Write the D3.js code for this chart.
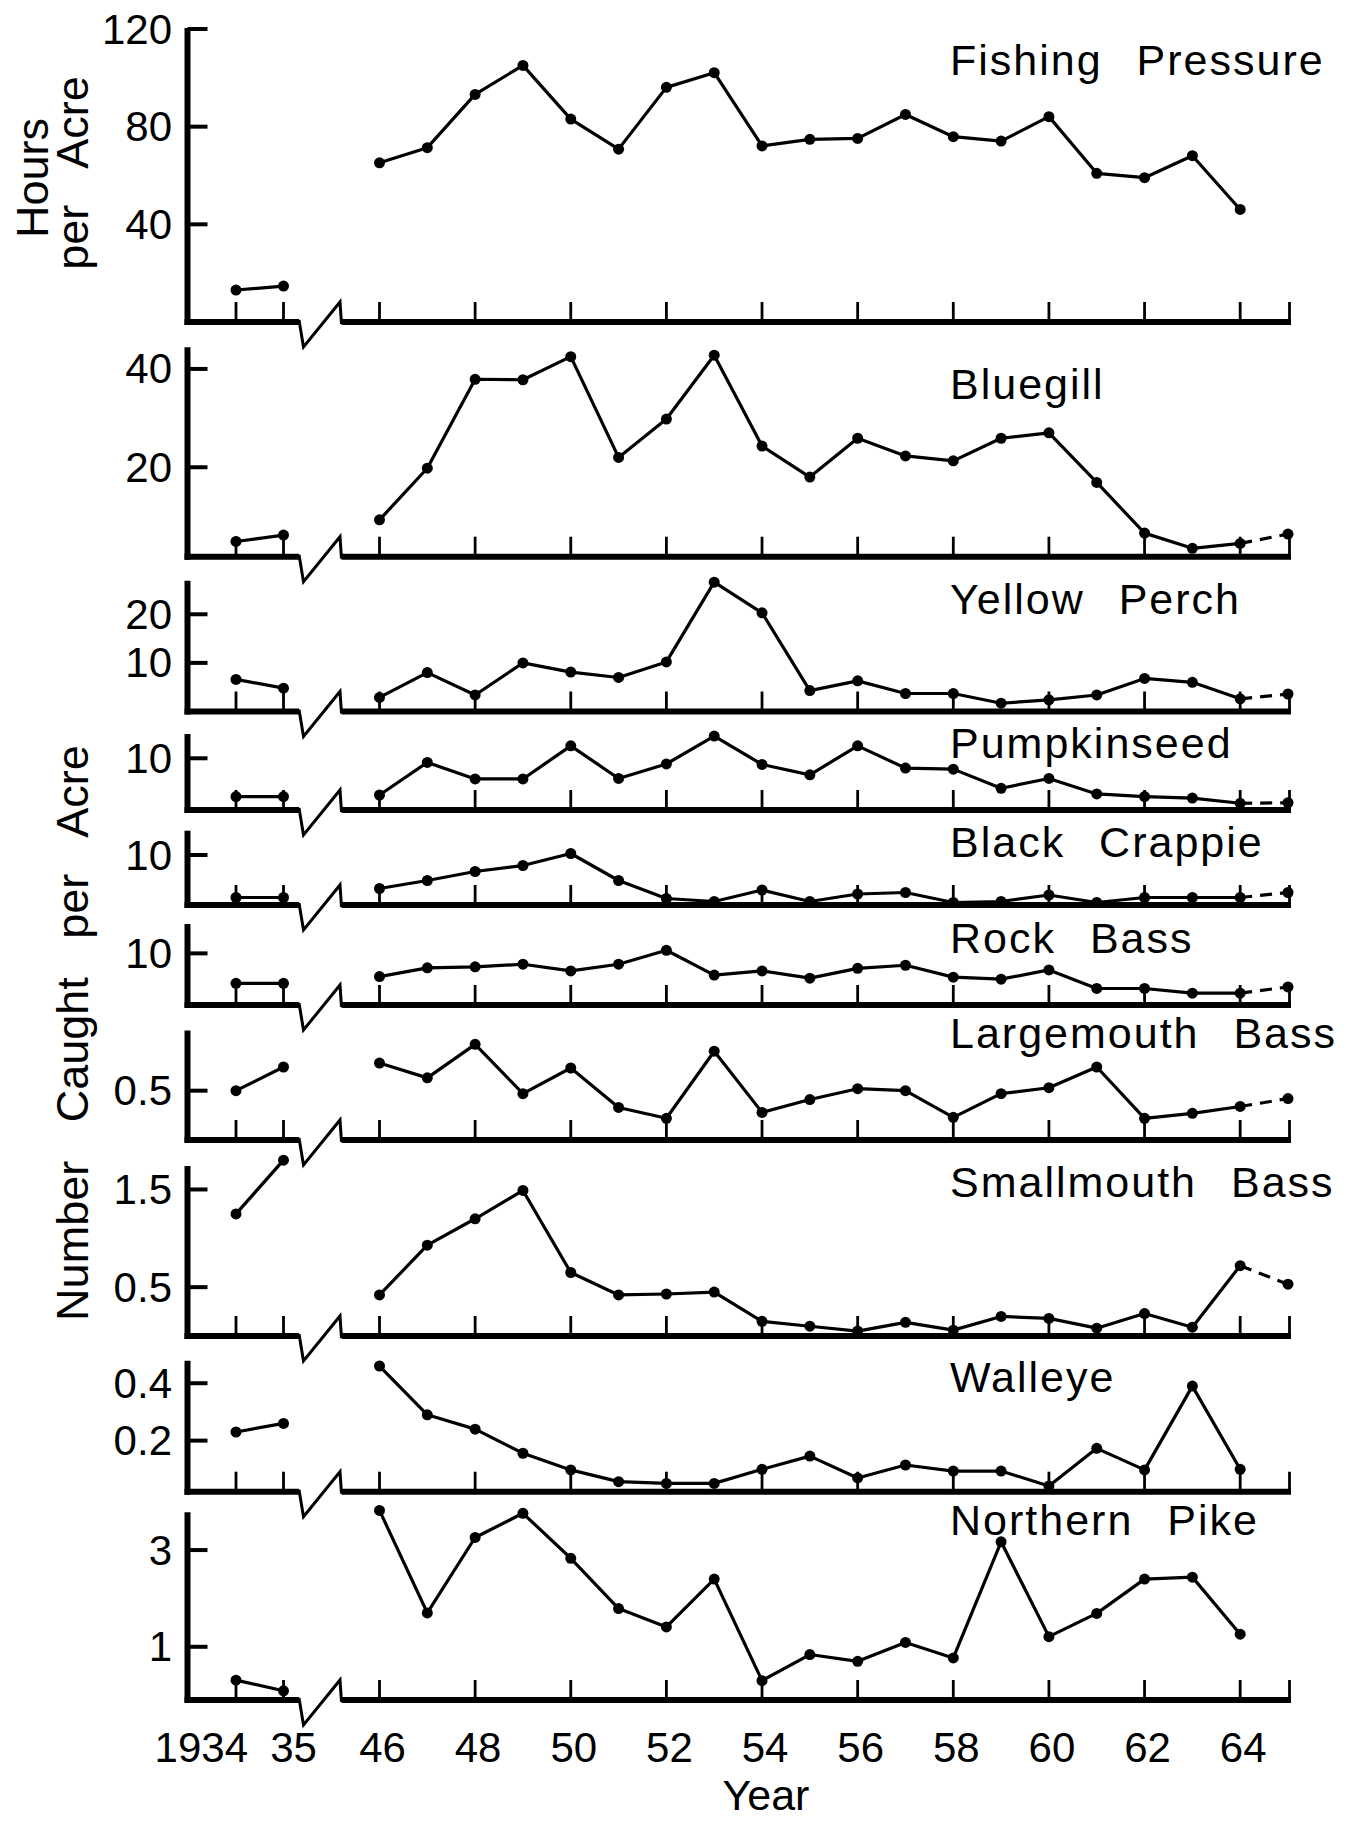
<!DOCTYPE html>
<html>
<head>
<meta charset="utf-8">
<script src="https://cdn.jsdelivr.net/npm/d3@7"></script>
<style>
  body { margin: 0; background: #fff; }
  svg text { font-family: "Liberation Sans", Arial, Helvetica, sans-serif; fill: #000; }
</style>
</head>
<body>
<div id="my_dataviz"></div>
<script>

// years on the x axis (1934, 1935, then 1946 - 1965)
var years = [1934, 1935, 1946, 1947, 1948, 1949, 1950, 1951, 1952, 1953, 1954,
             1955, 1956, 1957, 1958, 1959, 1960, 1961, 1962, 1963, 1964, 1965];

// x tick marks and their labels
var xTickYears  = [1934, 1935, 1946, 1948, 1950, 1952, 1954, 1956, 1958, 1960, 1962, 1964];
var xTickLabels = ["1934", "35", "46", "48", "50", "52", "54", "56", "58", "60", "62", "64"];

// hours per acre
var fishingPressure = [13.1, 14.7, 65.2, 71.4, 93.2, 105.1, 83.1, 70.8, 96.1, 102.1, 72.1,
                       74.8, 75.2, 85.0, 75.9, 74.1, 84.1, 60.9, 59.1, 68.1, 46.1, null];

// number caught per acre
var bluegill = [4.9, 6.2, 9.3, 19.8, 37.9, 37.8, 42.5, 22.0, 29.8, 42.8, 24.3,
                18.0, 25.9, 22.3, 21.3, 25.9, 27.0, 16.9, 6.6, 3.5, 4.5, 6.4];
var yellowPerch = [6.6, 4.8, 2.9, 8.0, 3.4, 10.0, 8.1, 7.0, 10.2, 26.6, 20.3,
                   4.3, 6.3, 3.7, 3.7, 1.7, 2.4, 3.4, 6.8, 6.0, 2.6, 3.6];
var pumpkinseed = [2.6, 2.6, 2.9, 9.2, 6.0, 6.0, 12.4, 6.1, 8.9, 14.3, 8.8,
                   6.8, 12.4, 8.1, 7.9, 4.2, 6.1, 3.1, 2.6, 2.3, 1.3, 1.4];
var blackCrappie = [1.5, 1.5, 3.3, 4.9, 6.7, 7.9, 10.3, 4.9, 1.3, 0.7, 3.0,
                    0.7, 2.2, 2.5, 0.5, 0.7, 2.0, 0.5, 1.5, 1.5, 1.5, 2.5];
var rockBass = [4.2, 4.2, 5.5, 7.2, 7.4, 7.9, 6.6, 7.9, 10.6, 5.8, 6.6,
                5.2, 7.1, 7.7, 5.4, 5.0, 6.8, 3.2, 3.2, 2.3, 2.3, 3.5];
var largemouthBass = [0.50, 0.74, 0.78, 0.63, 0.97, 0.47, 0.73, 0.33, 0.22, 0.90, 0.28,
                      0.41, 0.52, 0.50, 0.23, 0.47, 0.53, 0.74, 0.22, 0.27, 0.34, 0.42];
var smallmouthBass = [1.25, 1.80, 0.42, 0.93, 1.20, 1.49, 0.65, 0.42, 0.43, 0.45, 0.15,
                      0.10, 0.05, 0.14, 0.06, 0.20, 0.18, 0.08, 0.23, 0.09, 0.72, 0.53];
var walleye = [0.23, 0.26, 0.46, 0.29, 0.24, 0.156, 0.098, 0.057, 0.051, 0.051, 0.10,
               0.146, 0.07, 0.115, 0.094, 0.094, 0.042, 0.173, 0.098, 0.39, 0.10, null];
var northernPike = [0.31, 0.09, 3.82, 1.70, 3.26, 3.76, 2.83, 1.79, 1.41, 2.40, 0.30,
                    0.84, 0.70, 1.09, 0.77, 3.17, 1.21, 1.69, 2.40, 2.44, 1.26, null];

var titles = ["Fishing Pressure", "Bluegill", "Yellow Perch", "Pumpkinseed", "Black Crappie",
              "Rock Bass", "Largemouth Bass", "Smallmouth Bass", "Walleye", "Northern Pike"];
var yTicks = [[40, 80, 120], [20, 40], [10, 20], [10], [10], [10], [0.5], [0.5, 1.5], [0.2, 0.4], [1, 3]];
var yDomains = [[0, 120], [1.8, 44.2], [0, 26.7], [0, 14.5], [0, 14.66], [0, 15.5],
                [0, 1.1], [0, 1.73], [0.022, 0.475], [-0.1, 3.76]];
var series = [fishingPressure, bluegill, yellowPerch, pumpkinseed, blackCrappie,
              rockBass, largemouthBass, smallmouthBass, walleye, northernPike];

// panel layout: baseline y, top y, title baseline
var panelBase  = [322, 556.7, 711.5, 810, 905, 1005, 1140, 1336, 1491.7, 1700];
var panelTop   = [29, 348.3, 581.7, 735, 831.7, 925, 1031.5, 1167, 1361.7, 1513.3];
var titleY     = [75, 399, 614, 758, 857, 953, 1048, 1197, 1392, 1535];

var W = 1347, H = 1821;
var svg = d3.select("#my_dataviz")
  .append("svg")
    .attr("width", W)
    .attr("height", H);

// x scale with a break between 1935 and 1946
var x = d3.scaleLinear()
  .domain([1933, 1935, 1946, 1965])
  .range([188.5, 283.5, 379.5, 1288]);

var axisX = 187.5;
var axisEnd = 1291;
var breakL = x(1935) + 15.5, breakR = x(1946) - 38;

series.forEach(function (vals, p) {
  var base = panelBase[p];
  var y = d3.scaleLinear().domain(yDomains[p]).range([base, panelTop[p]]);
  var g = svg.append("g");

  // y axis line
  g.append("line")
    .attr("x1", axisX).attr("x2", axisX)
    .attr("y1", panelTop[p] - 1).attr("y2", base + 3)
    .attr("stroke", "#000").attr("stroke-width", 6);

  // baseline with break
  g.append("path")
    .attr("d", "M" + (axisX - 3) + "," + base + "H" + breakL + "M" + breakR + "," + base + "H" + axisEnd)
    .attr("fill", "none").attr("stroke", "#000").attr("stroke-width", 6);
  g.append("path")
    .attr("d", "M" + breakL + "," + (base - 2) + "L" + (breakL + 4.5) + "," + (base + 25) +
               "L" + (breakR - 1.5) + "," + (base - 20) + "L" + breakR + "," + (base + 2))
    .attr("fill", "none").attr("stroke", "#000").attr("stroke-width", 3)
    .attr("stroke-linejoin", "miter");

  // x tick marks
  g.selectAll(".xt")
    .data(xTickYears.concat([1965]))
    .enter().append("line")
      .attr("x1", function (d) { return d === 1965 ? axisEnd - 1.5 : x(d); })
      .attr("x2", function (d) { return d === 1965 ? axisEnd - 1.5 : x(d); })
      .attr("y1", base).attr("y2", base - 20)
      .attr("stroke", "#000").attr("stroke-width", 2.8);

  // y ticks and labels
  yTicks[p].forEach(function (t) {
    g.append("line")
      .attr("x1", axisX).attr("x2", axisX + 20)
      .attr("y1", y(t)).attr("y2", y(t))
      .attr("stroke", "#000").attr("stroke-width", 4);
    g.append("text")
      .attr("x", 172).attr("y", y(t))
      .attr("text-anchor", "end")
      .attr("dominant-baseline", "central")
      .style("font-size", "42px")
      .text(String(t));
  });

  // title
  g.append("text")
    .attr("x", 950).attr("y", titleY[p])
    .style("font-size", "43px")
    .style("letter-spacing", "2px")
    .style("word-spacing", "20px")
    .text(titles[p]);

  // data points
  var pts = years.map(function (yr, i) { return {year: yr, v: vals[i]}; })
    .filter(function (d) { return d.v !== null; });

  var line = d3.line()
    .x(function (d) { return x(d.year); })
    .y(function (d) { return y(d.v); });

  var early = pts.filter(function (d) { return d.year < 1940; });
  var main = pts.filter(function (d) { return d.year >= 1946 && d.year <= 1964; });
  var tail = pts.filter(function (d) { return d.year >= 1964; });

  [early, main].forEach(function (seg) {
    g.append("path").datum(seg)
      .attr("d", line)
      .attr("fill", "none").attr("stroke", "#000").attr("stroke-width", 3.2)
      .attr("stroke-linejoin", "round");
  });
  if (tail.length > 1) {
    g.append("path").datum(tail)
      .attr("d", line)
      .attr("fill", "none").attr("stroke", "#000").attr("stroke-width", 3.2)
      .attr("stroke-dasharray", "12,8");
  }

  g.selectAll(".dot")
    .data(pts)
    .enter().append("circle")
      .attr("cx", function (d) { return x(d.year); })
      .attr("cy", function (d) { return y(d.v); })
      .attr("r", 5.5)
      .attr("fill", "#000");
});

// x tick labels under the last panel
svg.append("g").selectAll("text")
  .data(xTickYears)
  .enter().append("text")
    .attr("x", function (d, i) {
      if (i === 0) return x(d) + 12;
      if (i === 1) return x(d) + 10;
      return x(d) + 3;
    })
    .attr("y", 1762)
    .attr("text-anchor", function (d, i) { return i === 0 ? "end" : "middle"; })
    .style("font-size", "42px")
    .text(function (d, i) { return xTickLabels[i]; });

svg.append("text")
  .attr("x", 766).attr("y", 1810)
  .attr("text-anchor", "middle")
  .style("font-size", "43px")
  .text("Year");

// y axis titles
function vLabel(txt, cx, cy) {
  svg.append("text")
    .attr("transform", "translate(" + cx + "," + cy + ") rotate(-90)")
    .attr("text-anchor", "middle")
    .style("font-size", "45px")
    .style("word-spacing", "26px")
    .text(txt);
}
vLabel("Hours", 48, 178);
vLabel("per Acre", 88, 173);
vLabel("Number Caught per Acre", 88, 1033);

</script>
</body>
</html>
